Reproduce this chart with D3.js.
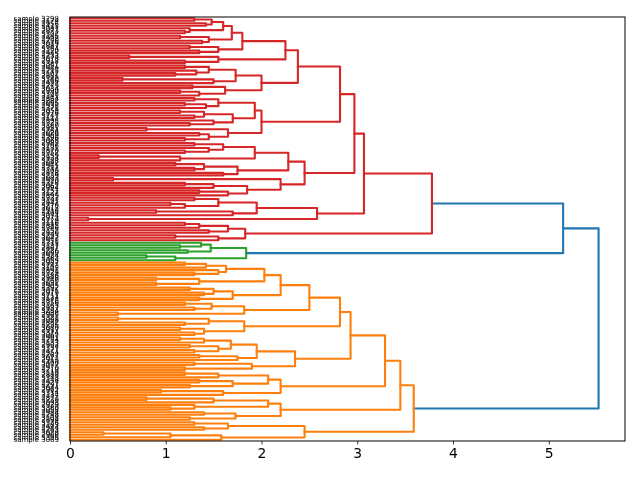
<!DOCTYPE html>
<html>
<head>
<meta charset="utf-8">
<script src="https://cdn.jsdelivr.net/npm/d3@7"></script>
<style>
  body { margin: 0; background: #fff; }
  svg { display: block; font-family: "DejaVu Sans", sans-serif; will-change: transform; }
</style>
</head>
<body>
<div class="chart"></div>
<script>
// tree nodes are [height, left, right]; a leaf is 0
const redTree =
[3.78,
  [3.07,
    [2.97,
      [2.82,
        [2.38,
          [2.25,
            [1.80,
              [1.69,
                [1.60, [1.48, [1.3, 0, 0], [1.42, 0, 0]], [1.25, 0, [1.2, 0, 0]]],
                [1.45, [1.15, 0, 0], [1.38, 0, 0]]],
              [1.55, [1.25, 0, 0], [1.35, 0, 0]]],
            [1.55, [0.62, 0, 0], [1.2, 0, 0]]],
          [2.0,
            [1.73, [1.45, [1.2, 0, 0], [1.32, 0, [1.1, 0, 0]]], [1.5, [0.55, 0, 0], 0]],
            [1.62, [1.28, 0, 0], [1.35, [1.15, 0, 0], 0]]]],
        [2.0,
          [1.93, [1.55, [1.3, 0, 0], [1.42, [1.2, 0, 0], 0]], [1.7, [1.4, [1.15, 0, 0], [1.3, 0, 0]], [1.5, 0, [1.25, 0, 0]]]],
          [1.65, [0.8, 0, 0], [1.45, [1.35, 0, 0], [1.2, 0, 0]]]]],
      [2.45,
        [2.28,
          [1.93, [1.6, [1.3, 0, 0], [1.45, 0, [1.2, 0, 0]]], [1.15, [0.3, 0, 0], 0]],
          [1.75, [1.4, [1.1, 0, 0], [1.3, 0, 0]], [1.6, 0, 0]]],
        [2.2, [0.45, 0, 0], [1.85, [1.5, [1.2, 0, 0], 0], [1.65, [1.35, 0, 0], 0]]]]],
    [2.58,
      [1.95, [1.55, [1.3, 0, 0], [1.2, [1.05, 0, 0], 0]], [1.7, [0.9, 0, 0], 0]],
      [0.19, 0, 0]]],
  [1.83,
    [1.65, [1.35, [1.2, 0, 0], 0], [1.45, 0, 0]],
    [1.55, [1.1, 0, 0], 0]]];

const greenTree =
[1.84, [1.47, [1.37, 0, [1.15, 0, 0]], [1.23, 0, 0]], [1.1, [0.8, 0, 0], 0]];

const orangeTree =
[3.59,
  [3.45,
    [3.29,
      [2.93,
        [2.82,
          [2.5,
            [2.2,
              [2.03, [1.63, [1.42, [1.2, 0, 0], 0], [1.55, 0, [1.3, 0, 0]]], [1.35, [0.9, 0, 0], [0.9, 0, 0]]],
              [1.7, [1.5, [1.25, 0, 0], [1.4, 0, 0]], [1.35, 0, 0]]],
            [1.82, [1.48, [1.2, 0, 0], [1.3, 0, 0]], [0.5, 0, 0]]],
          [1.82, [1.45, [0.5, 0, 0], [1.2, 0, 0]], [1.4, [1.15, 0, 0], [1.3, 0, 0]]]],
        [2.35,
          [1.95, [1.68, [1.4, [1.15, 0, 0], 0], [1.55, [1.25, 0, 0], [1.3, 0, 0]]], [1.75, [1.35, 0, 0], 0]],
          [1.9, [1.3, 0, 0], [1.2, 0, 0]]]],
      [2.2,
        [2.07, [1.55, [1.2, 0, 0], 0], [1.7, [1.35, 0, 0], [1.25, 0, 0]]],
        [1.6, [0.95, 0, 0], 0]]],
    [2.2,
      [2.07, [1.5, [0.8, 0, 0], 0], [1.3, 0, [1.05, 0, 0]]],
      [1.73, [1.4, 0, 0], [1.25, 0, 0]]]],
  [2.45,
    [1.65, [1.3, 0, 0], [1.4, 0, 0]],
    [1.58, [1.05, [0.35, 0, 0], 0], 0]]];

// upper blue merge, then root merge
const blueHeights = [5.15, 5.52];

const leafIds = [
  3298, 3174, 2956, 3411, 3087, 2873, 3302, 3145, 2998, 3256,
  3019, 2887, 3364, 3120, 2945, 3233, 3078, 2912, 3387, 3051,
  2969, 3215, 3102, 2881, 3340, 3166, 2927, 3279, 3034, 2990,
  3308, 3141, 2864, 3222, 3095, 2938, 3371, 3059, 2976, 3247,
  3113, 2895, 3325, 3180, 2951, 3264, 3026, 2909, 3396, 3068,
  2983, 3206, 3131, 2870, 3352, 3159, 2934, 3288, 3042, 2961,
  3317, 3109, 2878, 3239, 3083, 2920, 3378, 3062, 2994, 3251,
  3127, 2899, 3333, 3191, 2942, 3270, 3013, 2916, 3404, 3074,
  2973, 3229, 3116, 2885, 3346, 3152, 2930, 3293, 3047, 2958,
  3311, 3137, 2867, 3226, 3090, 2924, 3383, 3055, 2987, 3243,
  3105, 2891, 3329, 3186, 2948, 3260, 3031, 2905, 3392, 3071,
  2979, 3211, 3124, 2876, 3356, 3163, 2937, 3284, 3038, 2965,
  3321, 3098, 2882, 3235, 3080, 2917, 3374, 3065, 2991, 3254,
  3133, 2902, 3337, 3177, 2954, 3267, 3022, 2913, 3400, 3077,
  2970, 3219, 3119, 2888, 3343, 3148, 2927, 3297, 3044, 2962,
  3314, 3134, 2871, 3230, 3093, 2929, 3380, 3058, 2984, 3248,
  3108, 2894, 3326, 3183, 2944, 3263, 3028, 2908, 3395, 3069
];

const xTicks = [0, 1, 2, 3, 4, 5];
const clusterColors = ["#d62728", "#2ca02c", "#ff7f0e"];
const aboveColor = "#1f77b4";

const margin = ({top: 17, right: 15, bottom: 39, left: 70});
const width = 640 - margin.left - margin.right,
      height = 480 - margin.top - margin.bottom;

const svg = d3.select(".chart").append("svg")
  .attr("width", 640)
  .attr("height", 480)
  .append("g")
  .attr("transform", "translate(" + margin.left + "," + margin.top + ")");

const fullTree = [blueHeights[1], [blueHeights[0], redTree, greenTree], orangeTree];
const root = d3.hierarchy(fullTree, d => Array.isArray(d) ? d.slice(1) : null);

// leaf positions like scipy: 5, 15, 25, ...
let k = 0;
root.eachAfter(n => {
  if (!n.children) { n.h = 0; n.pos = 10 * k + 5; n.id = leafIds[k]; k++; }
  else { n.h = n.data[0]; n.pos = d3.mean(n.children, c => c.pos); }
});
const nLeaves = k;

root.each(n => n.color = aboveColor);
[root.children[0].children[0], root.children[0].children[1], root.children[1]]
  .forEach((sub, i) => sub.each(n => n.color = clusterColors[i]));

const xScale = d3.scaleLinear().domain([0, blueHeights[1] * 1.05]).range([0, width]);
const yScale = d3.scaleLinear().domain([0, nLeaves * 10]).range([0, height]);

const links = root.descendants().filter(n => n.children);

svg.append("g").selectAll("path").data(links)
  .enter().append("path")
  .attr("fill", "none")
  .attr("stroke", d => d.color)
  .attr("stroke-width", 2.1)
  .attr("stroke-linecap", "square")
  .attr("stroke-linejoin", "round")
  .attr("d", d => {
    const [a, b] = d.children;
    return "M" + xScale(a.h) + "," + yScale(a.pos) +
      "L" + xScale(d.h) + "," + yScale(a.pos) +
      "L" + xScale(d.h) + "," + yScale(b.pos) +
      "L" + xScale(b.h) + "," + yScale(b.pos);
  });

// leaf labels
svg.append("g").selectAll("text").data(root.leaves())
  .enter().append("text")
  .attr("x", -11)
  .attr("y", d => yScale(d.pos))
  .attr("dy", "0.35em")
  .attr("text-anchor", "end")
  .attr("font-size", "7px")
  .attr("fill", "#000")
  .text(d => "sample " + d.id);

const xAxis = d3.axisBottom(xScale).tickValues(xTicks).tickSize(3.5).tickPadding(3.5).tickFormat(d3.format("d"));
const gx = svg.append("g")
  .attr("transform", `translate(0, ${height})`)
  .call(xAxis);
gx.select(".domain").remove();
gx.selectAll("text").attr("font-size", "13.9px").attr("font-family", "DejaVu Sans").attr("fill", "#000");
gx.selectAll("line").attr("stroke", "#000").attr("stroke-width", 0.8);

svg.append("rect")
  .attr("width", width)
  .attr("height", height)
  .attr("fill", "none")
  .attr("stroke", "#000")
  .attr("stroke-width", 1);
</script>
</body>
</html>
